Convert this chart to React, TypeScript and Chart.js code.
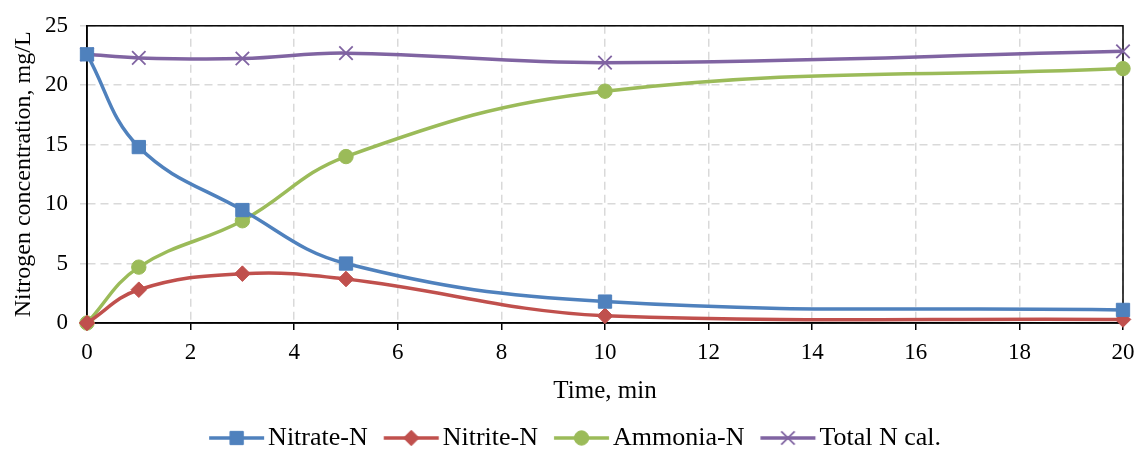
import React, { useEffect, useRef } from "react";
import { Chart, registerables } from "chart.js";
import { drawPoint } from "chart.js/helpers";

Chart.register(...registerables);

// ---- data ----
const times = [0, 1, 3, 5, 10, 20];
const nitrate = [22.6, 14.8, 9.5, 5.0, 1.8, 1.1];
const nitrite = [0, 2.8, 4.15, 3.7, 0.6, 0.3];
const ammonia = [0, 4.7, 8.6, 14.0, 19.5, 21.4];
const totalN = [22.6, 22.3, 22.25, 22.7, 21.9, 22.85];

const seriesNames = ["Nitrate-N", "Nitrite-N", "Ammonia-N", "Total N cal."];
const seriesColors = ["#4F81BD", "#C0504D", "#9BBB59", "#8064A2"];
const seriesMarkers = ["rect", "rectRot", "circle", "crossRot"];
const markerRadius = [9.4, 7.8, 7.2, 9.5];

const xTitle = "Time, min";
const yTitle = "Nitrogen concentration, mg/L";

const FONT = "'Liberation Serif', 'Times New Roman', serif";

function makeLegendImage(color: string, style: string, radius: number) {
  const c = document.createElement("canvas");
  c.width = 80;
  c.height = 26;
  const ctx = c.getContext("2d")!;
  const o = 23.1;
  ctx.strokeStyle = color;
  ctx.fillStyle = color;
  ctx.lineWidth = 3.5;
  ctx.beginPath();
  ctx.moveTo(o, 13);
  ctx.lineTo(o + 55, 13);
  ctx.stroke();
  ctx.lineWidth = style === "crossRot" ? 1.8 : 1;
  drawPoint(
    ctx,
    { pointStyle: style as any, radius, rotation: 0, borderWidth: ctx.lineWidth } as any,
    o + 27.5,
    13
  );
  return c;
}

const framePlugin = {
  id: "frame",
  beforeDatasetsDraw(chart: any) {
    const { ctx, chartArea: a } = chart;
    ctx.save();
    ctx.strokeStyle = "#000";
    ctx.lineWidth = 1.5;
    ctx.strokeRect(a.left, a.top, a.right - a.left, a.bottom - a.top);
    ctx.restore();
  },
};

export default function App() {
  const ref = useRef<HTMLCanvasElement>(null);

  useEffect(() => {
    document.body.style.margin = "0";
    const legendImages = seriesNames.map((_, i) =>
      makeLegendImage(seriesColors[i], seriesMarkers[i], markerRadius[i])
    );
    const values = [nitrate, nitrite, ammonia, totalN];
    const datasets = seriesNames.map((name, i) => ({
      label: name,
      data: times.map((t, j) => ({ x: t, y: values[i][j] })),
      borderColor: seriesColors[i],
      backgroundColor: seriesColors[i],
      pointBackgroundColor: seriesColors[i],
      pointBorderColor: seriesColors[i],
      pointStyle: seriesMarkers[i],
      pointRadius: markerRadius[i],
      pointHoverRadius: markerRadius[i],
      pointBorderWidth: seriesMarkers[i] === "crossRot" ? 1.8 : 1,
      borderWidth: 3.5,
      tension: 0.4,
      fill: false,
      clip: false as any,
      order: i === 3 ? 4 : i,
    }));

    const chart = new Chart(ref.current!, {
      type: "line",
      data: { datasets },
      plugins: [framePlugin],
      options: {
        animation: false,
        responsive: false,
        devicePixelRatio: 1,
        layout: { padding: { left: 0, right: 0, top: 23, bottom: 0 } },
        plugins: {
          tooltip: { enabled: false },
          legend: {
            position: "bottom",
            labels: {
              usePointStyle: true,
              pointStyleWidth: 58.2,
              padding: 3.8,
              color: "#000",
              font: { family: FONT, size: 26 },
              generateLabels: (ch: any) =>
                ch.data.datasets.map((ds: any, i: number) => ({
                  text: ds.label,
                  pointStyle: legendImages[i],
                  fillStyle: seriesColors[i],
                  strokeStyle: seriesColors[i],
                  lineWidth: 0,
                  hidden: false,
                  datasetIndex: i,
                  fontColor: "#000",
                })),
            },
          },
        },
        scales: {
          x: {
            type: "linear",
            min: 0,
            max: 20,
            ticks: {
              stepSize: 2,
              color: "#000",
              font: { family: FONT, size: 23 },
              padding: 9,
              maxRotation: 0,
            },
            grid: {
              color: "#d9d9d9",
              lineWidth: 1.5,
              tickColor: "#000",
              tickLength: 7,
              tickWidth: 1.5,
            },
            border: { display: true, color: "#000", width: 1.5, dash: [8, 5] },
            title: {
              display: true,
              text: xTitle,
              color: "#000",
              font: { family: FONT, size: 25 },
              padding: { top: 0, bottom: 15 },
            },
            afterFit: (s: any) => {
              s.height = 98.2;
              s.paddingRight = 15;
            },
          },
          y: {
            type: "linear",
            min: 0,
            max: 25,
            ticks: {
              stepSize: 5,
              color: "#000",
              font: { family: FONT, size: 23 },
              padding: 12,
            },
            grid: {
              color: "#d9d9d9",
              lineWidth: 1.5,
              tickColor: "#d9d9d9",
              tickLength: 7,
              tickWidth: 1.5,
            },
            border: { display: true, color: "#000", width: 1.5, dash: [8, 5] },
            title: {
              display: true,
              text: yTitle,
              color: "#000",
              font: { family: FONT, size: 24 },
              padding: { top: 9, bottom: 0 },
            },
            afterFit: (s: any) => {
              s.width = 87;
            },
          },
        },
      },
    } as any);
    return () => chart.destroy();
  }, []);

  return (
    <div
      style={{
        position: "absolute",
        left: 0,
        top: 0,
        width: 1138,
        height: 450,
        overflow: "hidden",
        background: "#fff",
      }}
    >
      <canvas ref={ref} width={1138} height={461} style={{ display: "block" }} />
    </div>
  );
}
